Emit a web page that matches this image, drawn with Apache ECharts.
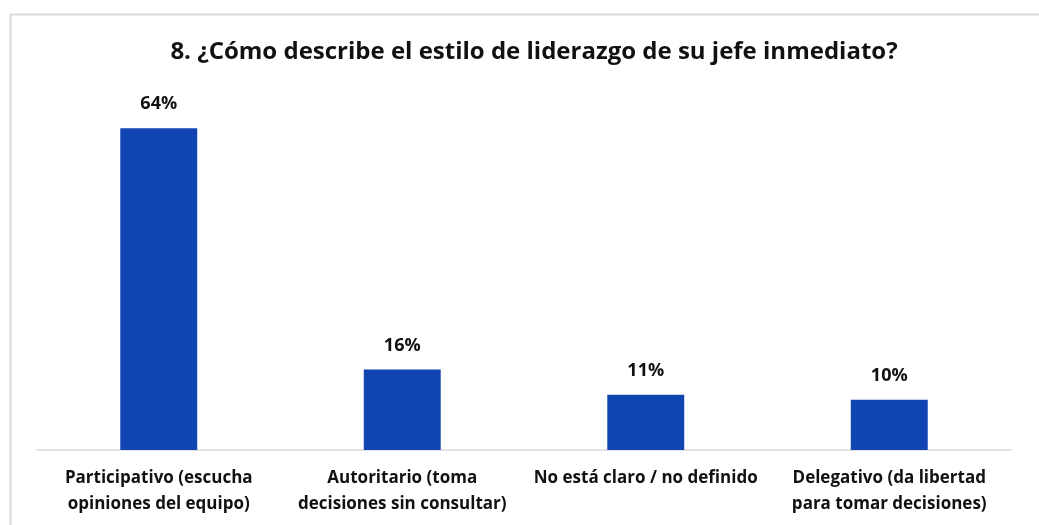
<!DOCTYPE html>
<html>
<head>
<meta charset="utf-8">
<script src="https://cdn.jsdelivr.net/npm/echarts@6/dist/echarts.min.js"></script>
<style>
  html, body { margin: 0; padding: 0; background: #ffffff; }
  #chart { width: 1039px; height: 525px; }
</style>
</head>
<body>
<div id="chart"></div>
<script>
// Survey question 8: perceived leadership style of the direct supervisor
const titleText = '8. ¿Cómo describe el estilo de liderazgo de su jefe inmediato?';
const categories = [
  'Participativo (escucha\nopiniones del equipo)',
  'Autoritario (toma\ndecisiones sin consultar)',
  'No está claro / no definido',
  'Delegativo (da libertad\npara tomar decisiones)'
];
const percentages = [64, 16, 11, 10];

const FONT = '"Open Sans", Lato, sans-serif';
const chart = echarts.init(document.getElementById('chart'));

chart.setOption({
  backgroundColor: '#ffffff',
  animation: false,
  title: {
    text: titleText,
    left: 529,
    textAlign: 'center',
    top: 35,
    textStyle: { fontFamily: FONT, fontSize: 24, fontWeight: 'bold', color: '#111111' }
  },
  graphic: [{
    type: 'rect',
    left: 8, top: 12,
    shape: { width: 1040, height: 530 },
    style: { fill: 'none', stroke: '#d9d9d9', lineWidth: 2 },
    silent: true
  }],
  grid: { left: 37, right: 28, top: 98, bottom: 75 },
  xAxis: {
    type: 'category',
    data: categories,
    axisLine: { lineStyle: { color: '#d9d9d9', width: 1.5 } },
    axisTick: { show: false },
    axisLabel: {
      interval: 0,
      margin: 15,
      lineHeight: 26,
      fontFamily: FONT,
      fontSize: 17,
      fontWeight: 'bold',
      color: '#111111'
    }
  },
  yAxis: {
    type: 'value',
    min: 0,
    max: 70,
    show: false,
    splitLine: { show: false }
  },
  series: [{
    type: 'bar',
    data: percentages,
    barWidth: '31.6%',
    itemStyle: { color: '#1045B2' },
    label: {
      show: true,
      position: 'top',
      distance: 15,
      formatter: p => p.value + '%',
      fontFamily: FONT,
      fontSize: 18,
      fontWeight: 'bold',
      color: '#111111'
    }
  }]
});
</script>
</body>
</html>
